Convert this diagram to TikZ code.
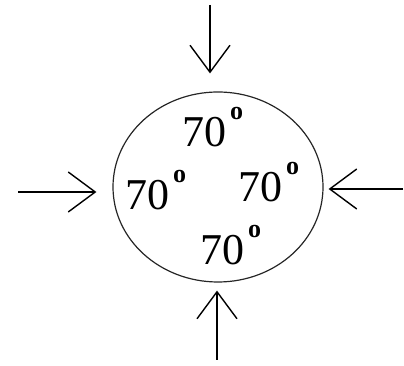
\documentclass[tikz,border=0pt]{standalone}
\usepackage{fontspec}
\setmainfont{Liberation Serif}
\usetikzlibrary{arrows.meta,calc,shapes.geometric}
\newcommand{\degsign}{\hspace{4pt}\raisebox{27pt}{\fontsize{26}{26}\selectfont\bfseries o}}
\tikzset{
  disc/.style={
    shape = ellipse,
    draw = black!85,
    line width = 1.2pt,
    inner sep = 0pt,
    minimum width = 210pt,
    minimum height = 190pt
  },
  push/.style={
    line width = 2pt,
    -{Straight Barb[length=27pt,width=40pt,line width=1.4pt]}
  },
  temp/.style={
    anchor = base west,
    inner sep = 0pt,
    font = \fontsize{44}{44}\selectfont
  },
}
\begin{document}
\begin{tikzpicture}[x=1pt,y=1pt]
  \useasboundingbox (0,0) rectangle (404,366);
  \node[disc] (ball) at (218,179) {};
  % the four readings
  \foreach \name/\x/\y in {tN/182/219, tW/125/156, tE/238/164, tS/200/101}{
    \node[temp] (\name) at (\x,\y) {70\degsign};
  }
  % pushes from outside
  \coordinate (fromN) at (210,361);
  \coordinate (fromS) at (217,6);
  \coordinate (fromW) at (18,174);
  \coordinate (fromE) at (403,177);
  \draw[push] (fromN) -- ([shift={(-8,18)}]ball.north);
  \draw[push] (fromS) -- ([shift={(-1,-8)}]ball.south);
  \draw[push] (fromW) -- ([shift={(-16,-5)}]ball.west);
  \draw[push] (fromE) -- ([shift={(5,-2)}]ball.east);
\end{tikzpicture}
\end{document}
